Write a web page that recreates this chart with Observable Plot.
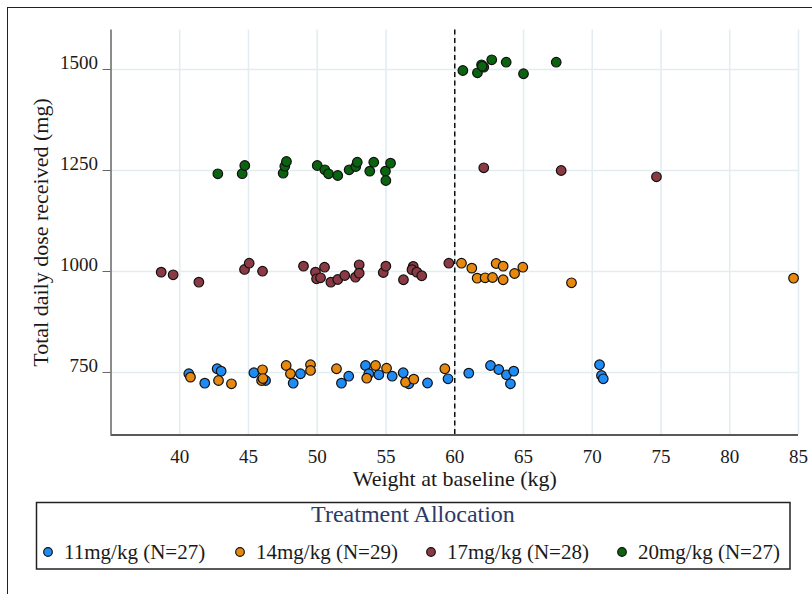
<!DOCTYPE html>
<html><head><meta charset="utf-8">
<script src="https://cdn.jsdelivr.net/npm/d3@7"></script>
<script src="https://cdn.jsdelivr.net/npm/@observablehq/plot@0.6"></script>
<style>
body{margin:0;background:#fff;overflow:hidden;font-family:"Liberation Serif",serif}
#wrap{position:relative;width:812px;height:594px;overflow:hidden}
#frame{position:absolute;left:7px;top:7px;width:900px;height:700px;border:1.5px solid #222;box-sizing:border-box}
#chart{position:absolute;left:0;top:0}
#legend{position:absolute;left:0;top:0}
</style></head><body>
<div id="wrap"><div id="frame"></div><div id="chart"></div><svg id="legend" width="812" height="594"></svg></div>
<script>
const groups = ["11mg/kg (N=27)", "14mg/kg (N=29)", "17mg/kg (N=28)", "20mg/kg (N=27)"];
const colors = ["#1f8cf5", "#e8890f", "#8b3a43", "#0a640f"];
const xTicks = [40, 45, 50, 55, 60, 65, 70, 75, 80, 85];
const yTicks = [750, 1000, 1250, 1500];
const cutoff = 60;

const w11 = [40.66,41.82,42.72,43.01,45.39,46.24,48.25,48.78,51.76,52.29,53.51,53.75,54.48,55.45,56.25,56.66,58.02,59.51,61.02,62.60,63.20,63.76,64.29,64.05,70.53,70.67,70.80];
const d11 = [746.8,723.5,759.2,753.2,749.3,730.2,723.5,746.8,723.5,740.8,767.3,746.8,744.3,740.8,749.3,722,724,734.4,748.3,767.3,757.4,744.3,753.2,722,769.1,742.6,734.4];

const w14 = [40.78,42.82,43.76,46.02,45.95,47.74,48.05,49.51,49.51,51.40,53.60,54.24,55.04,56.42,57.02,59.28,46.05,60.49,61.24,61.63,62.21,62.75,63.01,63.52,63.52,64.35,64.95,68.49,84.64];
const d14 = [738.4,730.2,722,756.7,730.2,767.3,746.8,769.1,755,759.2,735.9,767.3,760.6,726,733.4,759.2,735,1020.5,1008.2,983.4,984.4,985.1,1019.8,1013.1,979.5,995,1010.6,972,983.4];

const w17 = [38.65,39.52,41.39,44.71,45.05,46.02,49.0,49.87,49.95,50.24,50.53,50.99,51.49,52.0,52.78,53.05,53.05,54.80,54.99,56.27,56.98,56.89,57.24,57.60,59.57,62.11,67.74,74.67];
const d17 = [998.3,991.8,973.5,1005,1020.5,1000.7,1013.1,998.3,981.9,984.4,1010.6,973.5,980.2,990.1,985.9,1016.6,995.8,997.5,1013.1,979.5,1012.6,1004.5,998.3,989.4,1020.5,1256.7,1250,1234.4];

const w20 = [42.77,44.54,44.73,47.52,47.64,47.76,50.0,50.55,50.82,51.49,52.32,52.80,52.91,53.82,54.11,54.96,54.99,55.33,60.59,61.65,61.95,62.11,62.69,63.74,65.0,67.38,62.0];
const d20 = [1241.8,1242,1262.4,1243.3,1260.6,1272.3,1262.4,1251.7,1241.8,1237.6,1251.7,1259.9,1270.5,1248.3,1270.5,1248.3,1225.2,1268.1,1497.5,1491.8,1511.6,1505.7,1524,1518,1489.4,1518,1508];

const series = [[w11, d11], [w14, d14], [w17, d17], [w20, d20]];
const rows = [];
series.forEach(([ws, ds], i) => ws.forEach((w, j) => rows.push({w, d: ds[j], g: groups[i]})));

const font = "Liberation Serif";
const chart = Plot.plot({
  width: 812, height: 500,
  marginLeft: 110.5, marginRight: 14, marginTop: 29.4, marginBottom: 65.4,
  style: {fontFamily: font, background: "transparent", color: "#1a1a1a"},
  x: {domain: [35, 85]},
  y: {domain: [595, 1598]},
  color: {domain: groups, range: colors},
  marks: [
    Plot.gridX(xTicks, {stroke: "#e3edf0", strokeOpacity: 1, strokeWidth: 1.6}),
    Plot.gridY(yTicks, {stroke: "#e3edf0", strokeOpacity: 1, strokeWidth: 1.6}),
    Plot.ruleX([cutoff], {stroke: "#111", strokeDasharray: "5,3.5", strokeWidth: 1.5}),
    Plot.dot(rows, {x: "w", y: "d", fill: "g", r: 4.8, stroke: "#111", strokeWidth: 1.2}),
    Plot.ruleY([595], {stroke: "#222", strokeWidth: 1.5}),
    Plot.ruleX([35], {stroke: "#666", strokeWidth: 1.5}),
    Plot.axisX(xTicks, {tickSize: 0, tickPadding: 14, fontSize: 19, label: null, tickFormat: d => String(d)}),
    Plot.axisY(yTicks, {tickSize: 8, tickPadding: 5, fontSize: 19, label: null, stroke: "#666", lineAnchor: "bottom", tickFormat: d => String(d)}),
    Plot.text(["Weight at baseline (kg)"], {frameAnchor: "bottom", textAnchor: "middle", lineAnchor: "bottom", dy: 50.4, fontSize: 22}),
    Plot.text(["Total daily dose received (mg)"], {frameAnchor: "left", textAnchor: "middle", rotate: -90, lineAnchor: "bottom", dx: -63.5, fontSize: 22})
  ]
});
document.getElementById("chart").appendChild(chart);

// legend
const lg = d3.select("#legend");
lg.append("rect").attr("x", 36.5).attr("y", 502.5).attr("width", 753.5).attr("height", 66.5)
  .attr("fill", "none").attr("stroke", "#222").attr("stroke-width", 1.5);
lg.append("text").attr("x", 413).attr("y", 522).attr("text-anchor", "middle")
  .attr("font-family", font).attr("font-size", 24).attr("fill", "#2d3a66").text("Treatment Allocation");
const itemX = [48, 240, 431, 622];
groups.forEach((g, i) => {
  lg.append("circle").attr("cx", itemX[i]).attr("cy", 552).attr("r", 4.3)
    .attr("fill", colors[i]).attr("stroke", "#111").attr("stroke-width", 1.2);
  lg.append("text").attr("x", itemX[i] + 16).attr("y", 558.5)
    .attr("font-family", font).attr("font-size", 21).attr("fill", "#1a1a1a").text(g);
});
</script>
</body></html>
